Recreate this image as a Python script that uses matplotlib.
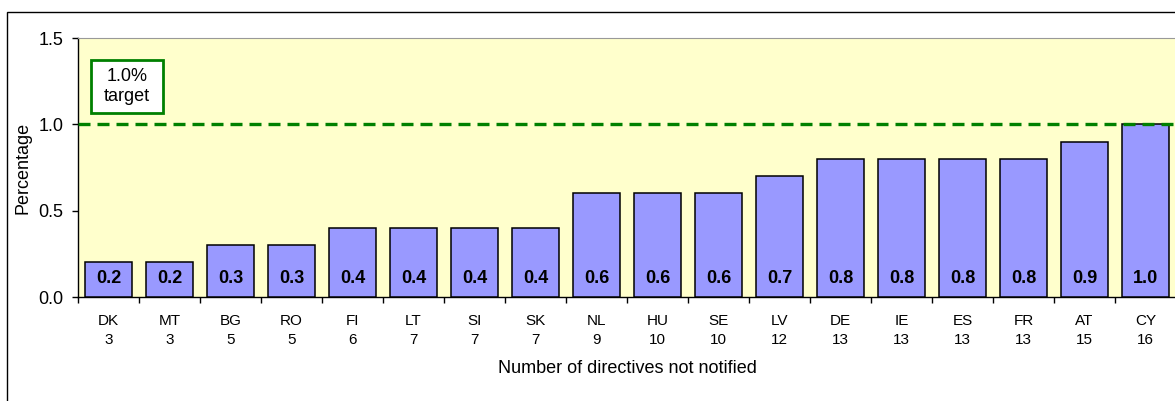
import numpy as np
import matplotlib.pyplot as plt
from matplotlib.patches import Rectangle

plt.rcParams['font.family'] = ['Liberation Sans', 'DejaVu Sans']

# data
countries = ['DK', 'MT', 'BG', 'RO', 'FI', 'LT', 'SI', 'SK', 'NL', 'HU', 'SE', 'LV', 'DE', 'IE', 'ES', 'FR', 'AT', 'CY']
not_notified = [3, 3, 5, 5, 6, 7, 7, 7, 9, 10, 10, 12, 13, 13, 13, 13, 15, 16]
percentage = [0.2, 0.2, 0.3, 0.3, 0.4, 0.4, 0.4, 0.4, 0.6, 0.6, 0.6, 0.7, 0.8, 0.8, 0.8, 0.8, 0.9, 1.0]
target = 1.0

fig = plt.figure(figsize=(11.75, 4.01), dpi=100)
# outer chart frame (Excel style)
fig.patches.append(Rectangle((7 / 1175, -0.1), 1.2, (401 - 12) / 401 + 0.1,
                             transform=fig.transFigure, fill=False,
                             edgecolor='black', linewidth=1))

ax = fig.add_axes([78 / 1175, 104 / 401, 1098 / 1175, 259 / 401])
ax.set_facecolor('#FFFFCC')

x = np.arange(len(countries))
ax.bar(x, percentage, width=0.78, color='#9999FF', edgecolor='black', linewidth=1.1, zorder=3)
for xi, v in zip(x, percentage):
    ax.text(xi, 0.11, f'{v:.1f}', ha='center', va='center', fontsize=13, fontweight='bold', zorder=4)

ax.axhline(target, color='#008000', linestyle=(0, (3.6, 2.1)), linewidth=2.4, zorder=4)
# target label box
ax.add_patch(Rectangle((-0.287, 1.065), 1.18, 0.307, facecolor='white', edgecolor='#008000',
                       linewidth=2, zorder=5))
ax.text(0.303, 1.219, '1.0%\ntarget', ha='center', va='center', fontsize=13, linespacing=1.2, zorder=6)

ax.set_xlim(-0.5, len(countries) - 0.5)
ax.set_ylim(0, 1.5)
ax.set_yticks([0, 0.5, 1.0, 1.5])
ax.set_yticklabels(['0.0', '0.5', '1.0', '1.5'])
ax.set_xticks(x)
ax.set_xticklabels([f'{c}\n{n}' for c, n in zip(countries, not_notified)], linespacing=1.5)
ax.set_xticks(np.arange(-0.5, len(countries), 1), minor=True)
ax.tick_params(axis='x', which='major', length=0, pad=12, labelsize=11)
ax.tick_params(axis='x', which='minor', length=4.3, width=1, direction='out')
ax.tick_params(axis='y', length=4.3, width=1, direction='out', labelsize=13, pad=6)

ax.spines['top'].set_color('#999999')
ax.spines['right'].set_visible(False)
for s in ('left', 'bottom'):
    ax.spines[s].set_linewidth(1)

ax.set_ylabel('Percentage', fontsize=13, labelpad=5)
ax.set_xlabel('Number of directives not notified', fontsize=13, labelpad=9)

fig.savefig('out.png', dpi=100)
